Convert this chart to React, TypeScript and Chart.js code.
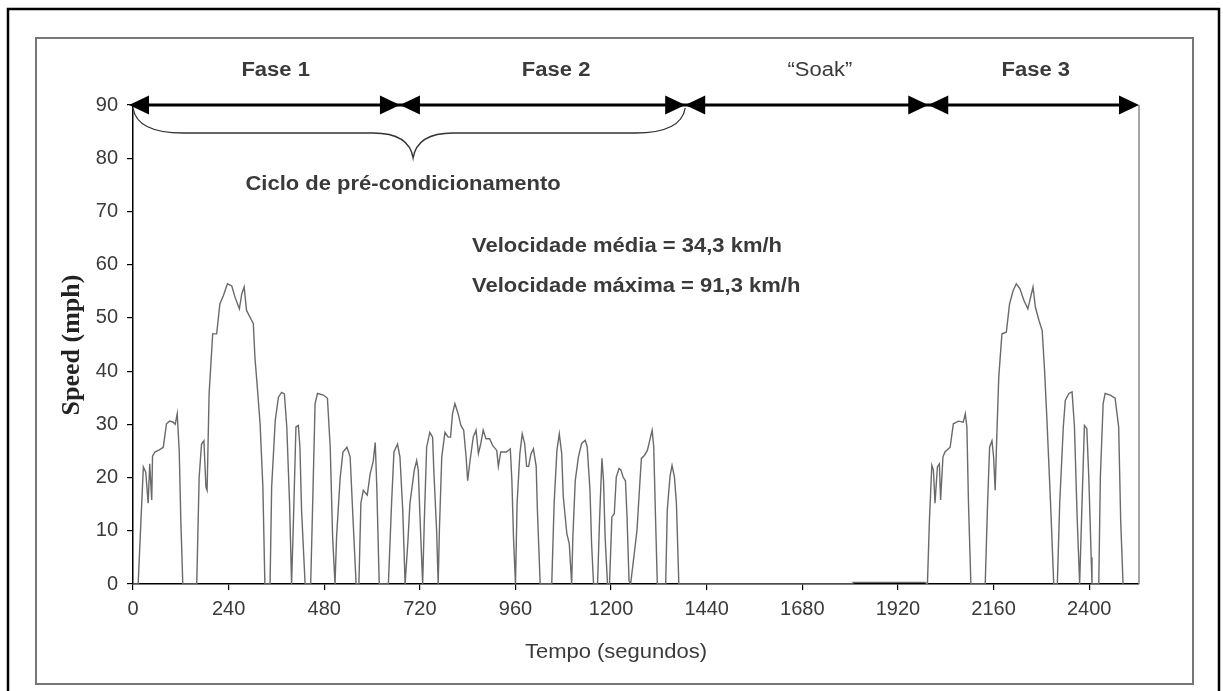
import React, { useEffect, useRef } from 'react';
import { Chart, registerables } from 'chart.js';

Chart.register(...registerables);

// ---- Data ----
const tempoFase12 = [
  0, 13, 20, 26, 32, 38, 42, 47, 49, 55, 66, 76, 84, 92, 101, 106, 111, 116, 120, 125,
  160, 166, 172, 178, 183, 186, 191, 200, 210, 218, 227, 237, 248, 256, 267, 273, 279, 285, 298, 302,
  306, 312, 319, 326, 331, 344, 348, 357, 365, 373, 380, 386, 393, 398, 402, 409, 415, 419, 423, 432,
  446, 451, 457, 463, 478, 488, 495, 501, 507, 511, 520, 527, 537, 545, 552, 560, 567, 572, 578, 588,
  595, 603, 608, 612, 618, 641, 649, 655, 664, 670, 677, 683, 690, 695, 706, 712, 716, 720, 727, 731,
  737, 745, 752, 755, 762, 766, 769, 775, 783, 791, 797, 802, 808, 816, 823, 830, 836, 840, 846, 854,
  861, 867, 873, 879, 886, 895, 903, 913, 917, 923, 937, 947, 951, 955, 960, 964, 971, 977, 983, 988,
  993, 999, 1005, 1012, 1015, 1022, 1051, 1057, 1064, 1070, 1076, 1080, 1089, 1095, 1101, 1104, 1110, 1118, 1126, 1135,
  1140, 1147, 1151, 1156, 1166, 1171, 1177, 1181, 1185, 1191, 1196, 1202, 1208, 1213, 1220, 1225, 1230, 1236, 1240, 1245,
  1249, 1257, 1265, 1270, 1276, 1284, 1291, 1297, 1303, 1307, 1311, 1316, 1337, 1341, 1348, 1353, 1359, 1364, 1370,
];
const velFase12 = [
  0, 0, 12, 22, 21, 15.2, 22.6, 15.8, 24, 24.8, 25.2, 25.7, 30.1, 30.6, 30.4, 30, 32, 25, 12, 0,
  0, 20, 26.3, 26.9, 18.2, 17.6, 35.7, 47, 47, 52.6, 54.2, 56.4, 56, 53.9, 51.7, 54.5, 55.8, 51.4, 49.5, 48.9,
  42.6, 37, 30.1, 18.2, 0, 0, 18.2, 30.7, 35.1, 36, 35.7, 29.5, 15.2, 0, 10, 29.5, 29.8, 25.7, 14, 0,
  0, 15.2, 33.9, 35.8, 35.5, 34.9, 25.7, 8.9, 0, 8.9, 20, 24.8, 25.7, 23.9, 12.6, 0, 0, 15.2, 17.6, 16.7,
  20.6, 23.1, 26.6, 18, 0, 0, 15.2, 24.8, 26.3, 23.9, 14, 0, 8, 15.1, 21.4, 23.2, 21.4, 13.2, 0, 11.4,
  25.7, 28.5, 27.6, 21.4, 10.1, 0, 10.1, 23.9, 28.5, 27.6, 27.6, 32, 33.9, 32, 29.8, 28.9, 23.9, 19.4, 23.2, 27.6,
  28.9, 24.5, 26.4, 28.9, 27.3, 27.3, 26, 25.1, 22.1, 24.8, 24.8, 25.4, 19.4, 8.8, 0, 15.1, 24.5, 28.2, 26.4, 22.1,
  22.1, 24.5, 25.4, 22.1, 13.9, 0, 0, 15.1, 25.1, 28.2, 24.5, 16.4, 9.4, 7.6, 0, 8.8, 19.4, 23.9, 26.4, 27,
  25.8, 17.6, 7.6, 0, 0, 12, 23.6, 19.4, 8.8, 0, 0, 12.6, 13.2, 20.1, 21.7, 21.4, 20.1, 19.4, 12.6, 0.6,
  0, 5, 10.1, 16.4, 23.6, 24.2, 25.1, 27, 28.9, 25.8, 13.9, 0, 0, 13.9, 20.3, 22.3, 20.1, 15.1, 0,
];
const tempoSoak = [1370, 1805, 1807, 1988, 1994];
const velSoak = [0, 0, 0.3, 0.3, 0];
const tempoFase3 = [
  1994, 1999, 2005, 2009, 2013, 2019, 2024, 2027, 2033, 2038, 2051, 2059, 2072, 2084, 2089, 2093, 2097, 2103,
  2139, 2145, 2150, 2156, 2160, 2164, 2168, 2173, 2181, 2192, 2200, 2209, 2217, 2226, 2236, 2246, 2253, 2259,
  2265, 2274, 2282, 2288, 2294, 2303, 2311, 2320, 2326, 2335, 2340, 2349, 2357, 2363, 2370, 2376, 2382, 2388,
  2394, 2399, 2405, 2407, 2424, 2428, 2435, 2440, 2453, 2465, 2474, 2479, 2485,
];
const velFase3 = [
  0, 12, 22.3, 21.4, 15.2, 22, 22.6, 15.8, 23.9, 24.8, 25.7, 30.1, 30.6, 30.4, 32, 29.5, 15.2, 0,
  0, 15.2, 25.7, 26.9, 23.9, 17.6, 27.6, 38.9, 47, 47.3, 52.6, 55.1, 56.4, 55.5, 53.3, 51.7, 53.9, 55.8,
  52, 49.5, 47.6, 40.1, 30.7, 15.2, 0, 0, 15.2, 29.5, 34.5, 35.8, 36.1, 29.5, 12, 0, 15.2, 29.8,
  29.2, 20, 5, 0, 0, 20, 33.9, 35.8, 35.5, 34.9, 29.5, 12, 0,
];

const xTicks = [0, 240, 480, 720, 960, 1200, 1440, 1680, 1920, 2160, 2400];
const yTicks = [0, 10, 20, 30, 40, 50, 60, 70, 80, 90];
const xMax = 2525;
const yMax = 90;

const phaseBounds = [0, 670, 1386, 1996, 2525];
const phaseLabels = ['Fase 1', 'Fase 2', '\u201cSoak\u201d', 'Fase 3'];
const phaseLabelT = [358, 1062, 1724, 2266];
const phaseBold = [true, true, false, true];
const braceLabel = 'Ciclo de pré-condicionamento';
const statsLabels = ['Velocidade média = 34,3 km/h', 'Velocidade máxima = 91,3 km/h'];
const xTitle = 'Tempo (segundos)';
const yTitle = 'Speed (mph)';

const SANS = "'Liberation Sans', Arial, sans-serif";
const SERIF = "'Liberation Serif', 'Times New Roman', serif";
const TXT = '#3a3a3a';
const STRETCH = 1.1;

function toPoints(ts: number[], vs: number[]) {
  return ts.map((t, i) => ({ x: t, y: vs[i] }));
}

function wideText(ctx: CanvasRenderingContext2D, text: string, x: number, y: number, align: CanvasTextAlign) {
  ctx.save();
  ctx.translate(x, y);
  ctx.scale(STRETCH, 1);
  ctx.textAlign = align;
  ctx.fillText(text, 0, 0);
  ctx.restore();
}

const overlayPlugin = {
  id: 'overlay',
  afterDraw(chart: any) {
    const ctx: CanvasRenderingContext2D = chart.ctx;
    const xs = chart.scales.x;
    const ys = chart.scales.y;
    const y90 = ys.getPixelForValue(yMax);
    const yBottom = ys.getPixelForValue(0);
    ctx.save();

    // outer frames
    ctx.strokeStyle = '#000';
    ctx.lineWidth = 2.5;
    ctx.strokeRect(8, 9, 1211, 700);
    ctx.strokeStyle = '#777';
    ctx.lineWidth = 2;
    ctx.strokeRect(36, 38, 1157, 646);

    // right vertical line
    const xEnd = xs.getPixelForValue(phaseBounds[phaseBounds.length - 1]);
    ctx.strokeStyle = '#888';
    ctx.lineWidth = 1.5;
    ctx.beginPath();
    ctx.moveTo(xEnd, y90);
    ctx.lineTo(xEnd, yBottom);
    ctx.stroke();

    // main arrow line
    const xStart = xs.getPixelForValue(phaseBounds[0]) - 4;
    ctx.strokeStyle = '#000';
    ctx.lineWidth = 3;
    ctx.beginPath();
    ctx.moveTo(xStart + 5, y90);
    ctx.lineTo(xEnd - 5, y90);
    ctx.stroke();

    const arrow = (tip: number, dir: number) => {
      const len = 20;
      const hh = 9.5;
      ctx.fillStyle = '#000';
      ctx.beginPath();
      ctx.moveTo(tip, y90);
      ctx.lineTo(tip - dir * len, y90 - hh);
      ctx.lineTo(tip - dir * len, y90 + hh);
      ctx.closePath();
      ctx.fill();
    };
    arrow(xStart, -1);
    for (let i = 1; i < phaseBounds.length - 1; i++) {
      const px = xs.getPixelForValue(phaseBounds[i]);
      arrow(px, 1);
      arrow(px, -1);
    }
    arrow(xEnd, 1);

    // brace under phases 1+2
    const bx0 = xs.getPixelForValue(phaseBounds[0]);
    const bx1 = xs.getPixelForValue(phaseBounds[2]);
    const bxc = (bx0 + bx1) / 2 + 4;
    const top = y90 + 3;
    const mid = y90 + 28;
    const tipY = y90 + 53;
    ctx.strokeStyle = '#333';
    ctx.lineWidth = 1.3;
    ctx.beginPath();
    ctx.moveTo(bx0, top);
    ctx.quadraticCurveTo(bx0 + 4, mid, bx0 + 50, mid);
    ctx.lineTo(bxc - 40, mid);
    ctx.quadraticCurveTo(bxc - 4, mid, bxc, tipY);
    ctx.quadraticCurveTo(bxc + 4, mid, bxc + 40, mid);
    ctx.lineTo(bx1 - 50, mid);
    ctx.quadraticCurveTo(bx1 - 4, mid, bx1, top);
    ctx.stroke();

    // phase labels
    ctx.fillStyle = TXT;
    ctx.textBaseline = 'middle';
    phaseLabels.forEach((lab, i) => {
      ctx.font = `${phaseBold[i] ? 'bold ' : ''}20px ${SANS}`;
      wideText(ctx, lab, xs.getPixelForValue(phaseLabelT[i]), 70, 'center');
    });

    // brace label
    ctx.font = `bold 20px ${SANS}`;
    wideText(ctx, braceLabel, bxc - 10, 184, 'center');

    // stats
    wideText(ctx, statsLabels[0], 472, 246, 'left');
    wideText(ctx, statsLabels[1], 472, 286, 'left');

    // x title
    ctx.font = `20px ${SANS}`;
    wideText(ctx, xTitle, 616, 652, 'center');

    // y title
    ctx.save();
    ctx.translate(72, 345);
    ctx.rotate(-Math.PI / 2);
    ctx.font = `bold 26px ${SERIF}`;
    ctx.fillStyle = '#222';
    ctx.textAlign = 'center';
    ctx.fillText(yTitle, 0, 0);
    ctx.restore();

    ctx.restore();
  },
};

export default function App() {
  const ref = useRef<HTMLCanvasElement | null>(null);
  useEffect(() => {
    if (!ref.current) return;
    const data = [
      ...toPoints(tempoFase12, velFase12),
      ...toPoints(tempoSoak, velSoak).slice(1),
      ...toPoints(tempoFase3, velFase3).slice(1),
    ];
    const chart = new Chart(ref.current, {
      type: 'line',
      data: {
        datasets: [
          {
            data,
            borderColor: '#6a6a6a',
            borderWidth: 1.4,
            pointRadius: 0,
            tension: 0,
            fill: false,
          },
        ],
      },
      options: {
        animation: false,
        responsive: false,
        events: [],
        layout: { padding: { left: 0, right: 84, top: 105, bottom: 0 } },
        plugins: { legend: { display: false }, tooltip: { enabled: false }, title: { display: false } },
        scales: {
          x: {
            type: 'linear',
            min: 0,
            max: xMax,
            afterFit: (s: any) => { s.height = 107; },
            afterBuildTicks: (s: any) => { s.ticks = xTicks.map((v) => ({ value: v })); },
            grid: { drawOnChartArea: false, drawTicks: true, tickLength: 6, color: '#000', lineWidth: 1.2 },
            border: { display: true, color: '#000', width: 1.5 },
            ticks: {
              color: TXT,
              font: { family: SANS, size: 20 },
              padding: 7,
              maxRotation: 0,
              autoSkip: false,
              callback: (v: any) => String(v),
            },
          },
          y: {
            type: 'linear',
            min: 0,
            max: yMax,
            afterFit: (s: any) => { s.width = 133; },
            afterBuildTicks: (s: any) => { s.ticks = yTicks.map((v) => ({ value: v })); },
            grid: { drawOnChartArea: false, drawTicks: true, tickLength: 6, color: '#000', lineWidth: 1.2 },
            border: { display: true, color: '#000', width: 1.5 },
            ticks: { color: TXT, font: { family: SANS, size: 20 }, padding: 9, callback: (v: any) => String(v) },
          },
        },
      },
      plugins: [overlayPlugin],
    });
    return () => chart.destroy();
  }, []);
  return (
    <div style={{ position: 'fixed', left: 0, top: 0, width: 1223, height: 691, background: '#fff' }}>
      <canvas ref={ref} width={1223} height={691} style={{ display: 'block' }} />
    </div>
  );
}
